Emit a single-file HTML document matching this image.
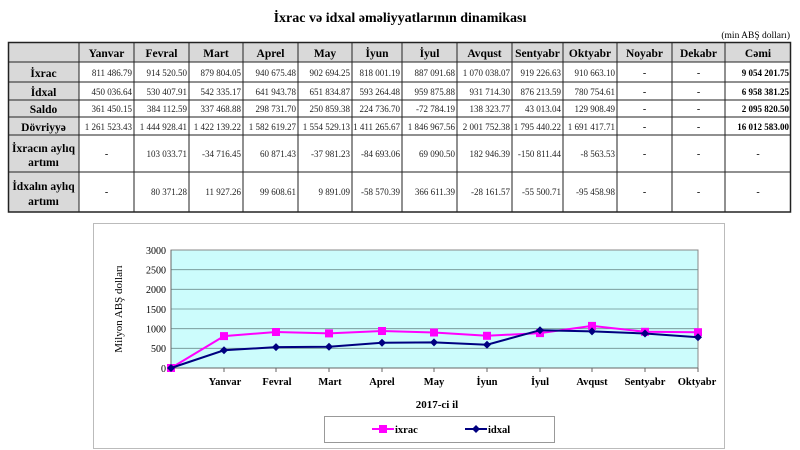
<!DOCTYPE html>
<html><head><meta charset="utf-8"><style>
html,body{margin:0;padding:0;background:#fff;}
svg{display:block;font-family:"Liberation Serif",serif;}
</style></head><body>
<svg width="800" height="450" viewBox="0 0 800 450" xmlns="http://www.w3.org/2000/svg">
<text x="400" y="22" text-anchor="middle" font-size="14" font-weight="bold">İxrac və idxal əməliyyatlarının dinamikası</text>
<text x="790" y="38" text-anchor="end" font-size="9.5">(min ABŞ dolları)</text>
<!-- table backgrounds -->
<rect x="8" y="42" width="783" height="20" fill="#d9d9d9"/>
<rect x="8" y="42" width="71" height="170" fill="#d9d9d9"/>
<g stroke="#222" stroke-width="1" fill="none">
<rect x="8.5" y="42.5" width="782" height="169.5" stroke-width="1.5"/>
<path d="M79 42V212M134 42V212M189 42V212M243 42V212M298 42V212M352 42V212M402 42V212M457 42V212M512 42V212M563 42V212M617 42V212M672 42V212M725 42V212"/>
<path d="M8 62H791M8 82H791M8 100H791M8 117H791M8 135H791M8 172H791"/>
</g>
<g font-size="11.5" font-weight="bold" text-anchor="middle">
<text x="106.5" y="57">Yanvar</text><text x="161.5" y="57">Fevral</text><text x="216" y="57">Mart</text><text x="270.5" y="57">Aprel</text><text x="325" y="57">May</text><text x="377" y="57">İyun</text><text x="429.5" y="57">İyul</text><text x="484.5" y="57">Avqust</text><text x="537.5" y="57">Sentyabr</text><text x="590" y="57">Oktyabr</text><text x="644.5" y="57">Noyabr</text><text x="698.5" y="57">Dekabr</text><text x="758" y="57">Cəmi</text>
<text x="43.5" y="77">İxrac</text><text x="43.5" y="96">İdxal</text><text x="43.5" y="113">Saldo</text><text x="43.5" y="131">Dövriyyə</text>
<text x="43.5" y="152">İxracın aylıq</text><text x="43.5" y="166">artımı</text>
<text x="43.5" y="190">İdxalın aylıq</text><text x="43.5" y="205">artımı</text>
</g>
<g font-size="9" text-anchor="end" fill="#222">
<text x="132" y="76">811 486.79</text><text x="187" y="76">914 520.50</text><text x="241" y="76">879 804.05</text><text x="296" y="76">940 675.48</text><text x="350" y="76">902 694.25</text><text x="400" y="76">818 001.19</text><text x="455" y="76">887 091.68</text><text x="510" y="76">1 070 038.07</text><text x="561" y="76">919 226.63</text><text x="615" y="76">910 663.10</text>
<text x="132" y="95">450 036.64</text><text x="187" y="95">530 407.91</text><text x="241" y="95">542 335.17</text><text x="296" y="95">641 943.78</text><text x="350" y="95">651 834.87</text><text x="400" y="95">593 264.48</text><text x="455" y="95">959 875.88</text><text x="510" y="95">931 714.30</text><text x="561" y="95">876 213.59</text><text x="615" y="95">780 754.61</text>
<text x="132" y="112">361 450.15</text><text x="187" y="112">384 112.59</text><text x="241" y="112">337 468.88</text><text x="296" y="112">298 731.70</text><text x="350" y="112">250 859.38</text><text x="400" y="112">224 736.70</text><text x="455" y="112">-72 784.19</text><text x="510" y="112">138 323.77</text><text x="561" y="112">43 013.04</text><text x="615" y="112">129 908.49</text>
<text x="132" y="130">1 261 523.43</text><text x="187" y="130">1 444 928.41</text><text x="241" y="130">1 422 139.22</text><text x="296" y="130">1 582 619.27</text><text x="350" y="130">1 554 529.13</text><text x="400" y="130">1 411 265.67</text><text x="455" y="130">1 846 967.56</text><text x="510" y="130">2 001 752.38</text><text x="561" y="130">1 795 440.22</text><text x="615" y="130">1 691 417.71</text>
<text x="187" y="157">103 033.71</text><text x="241" y="157">-34 716.45</text><text x="296" y="157">60 871.43</text><text x="350" y="157">-37 981.23</text><text x="400" y="157">-84 693.06</text><text x="455" y="157">69 090.50</text><text x="510" y="157">182 946.39</text><text x="561" y="157">-150 811.44</text><text x="615" y="157">-8 563.53</text>
<text x="187" y="195">80 371.28</text><text x="241" y="195">11 927.26</text><text x="296" y="195">99 608.61</text><text x="350" y="195">9 891.09</text><text x="400" y="195">-58 570.39</text><text x="455" y="195">366 611.39</text><text x="510" y="195">-28 161.57</text><text x="561" y="195">-55 500.71</text><text x="615" y="195">-95 458.98</text>
</g>
<g font-size="9" font-weight="bold" text-anchor="end">
<text x="789" y="76">9 054 201.75</text><text x="789" y="95">6 958 381.25</text><text x="789" y="112">2 095 820.50</text><text x="789" y="130">16 012 583.00</text>
</g>
<g font-size="10" text-anchor="middle">
<text x="644.5" y="76">-</text><text x="698.5" y="76">-</text><text x="644.5" y="95">-</text><text x="698.5" y="95">-</text><text x="644.5" y="112">-</text><text x="698.5" y="112">-</text><text x="644.5" y="130">-</text><text x="698.5" y="130">-</text>
<text x="106.5" y="157">-</text><text x="644.5" y="157">-</text><text x="698.5" y="157">-</text><text x="758" y="157">-</text>
<text x="106.5" y="195">-</text><text x="644.5" y="195">-</text><text x="698.5" y="195">-</text><text x="758" y="195">-</text>
</g>
<!-- chart -->
<rect x="93.5" y="223.5" width="631" height="225" fill="#fff" stroke="#bbb"/>
<rect x="171" y="250" width="527" height="118" fill="#ccfcfc" stroke="#888"/>
<g stroke="#6e8e8e" stroke-width="0.8">
<path d="M171 269.7H698M171 289.3H698M171 309H698M171 328.7H698M171 348.3H698"/>
</g>
<path d="M171 368H698" stroke="#666"/>
<g stroke="#666"><path d="M171 250V368M224 368v4M276 368v4M329 368v4M382 368v4M434 368v4M487 368v4M540 368v4M592 368v4M645 368v4M698 368v4"/></g>
<g font-size="10" text-anchor="end">
<text x="166" y="254">3000</text><text x="166" y="273.5">2500</text><text x="166" y="293">2000</text><text x="166" y="313">1500</text><text x="166" y="332.5">1000</text><text x="166" y="352">500</text><text x="166" y="372">0</text>
</g>
<text transform="translate(122 309) rotate(-90)" font-size="11" text-anchor="middle">Milyon ABŞ dolları</text>
<g font-size="10.5" font-weight="bold" text-anchor="middle">
<text x="225" y="385">Yanvar</text><text x="277" y="385">Fevral</text><text x="330" y="385">Mart</text><text x="382" y="385">Aprel</text><text x="434" y="385">May</text><text x="487" y="385">İyun</text><text x="540" y="385">İyul</text><text x="592" y="385">Avqust</text><text x="645" y="385">Sentyabr</text><text x="697" y="385">Oktyabr</text>
<text x="437" y="408" font-size="11">2017-ci il</text>
</g>
<polyline fill="none" stroke="#ff00ff" stroke-width="2" points="171,368 224,336.1 276,332 329,333.4 382,331 434,332.5 487,335.8 540,333.1 592,325.9 645,331.8 698,332.2"/>
<g fill="#ff00ff">
<rect x="167" y="364" width="8" height="8"/><rect x="220" y="332.1" width="8" height="8"/><rect x="272" y="328" width="8" height="8"/><rect x="325" y="329.4" width="8" height="8"/><rect x="378" y="327" width="8" height="8"/><rect x="430" y="328.5" width="8" height="8"/><rect x="483" y="331.8" width="8" height="8"/><rect x="536" y="329.1" width="8" height="8"/><rect x="588" y="321.9" width="8" height="8"/><rect x="641" y="327.8" width="8" height="8"/><rect x="694" y="328.2" width="8" height="8"/>
</g>
<polyline fill="none" stroke="#000080" stroke-width="2" points="171,368 224,350.3 276,347.1 329,346.7 382,342.8 434,342.4 487,344.7 540,330.2 592,331.4 645,333.5 698,337.3"/>
<g fill="#000080">
<path d="M171 364l4 4-4 4-4-4z"/><path d="M224 346.3l4 4-4 4-4-4z"/><path d="M276 343.1l4 4-4 4-4-4z"/><path d="M329 342.7l4 4-4 4-4-4z"/><path d="M382 338.8l4 4-4 4-4-4z"/><path d="M434 338.4l4 4-4 4-4-4z"/><path d="M487 340.7l4 4-4 4-4-4z"/><path d="M540 326.2l4 4-4 4-4-4z"/><path d="M592 327.4l4 4-4 4-4-4z"/><path d="M645 329.5l4 4-4 4-4-4z"/><path d="M698 333.3l4 4-4 4-4-4z"/>
</g>
<rect x="324.5" y="416.5" width="230" height="26" fill="#fff" stroke="#999"/>
<path d="M372 429H394" stroke="#ff00ff" stroke-width="2"/><rect x="379" y="425" width="8" height="8" fill="#ff00ff"/>
<text x="395" y="433" font-size="10.5" font-weight="bold">ixrac</text>
<path d="M465 429H487" stroke="#000080" stroke-width="2"/><path d="M476 425l4 4-4 4-4-4z" fill="#000080"/>
<text x="488" y="433" font-size="10.5" font-weight="bold">idxal</text>
</svg>
</body></html>
